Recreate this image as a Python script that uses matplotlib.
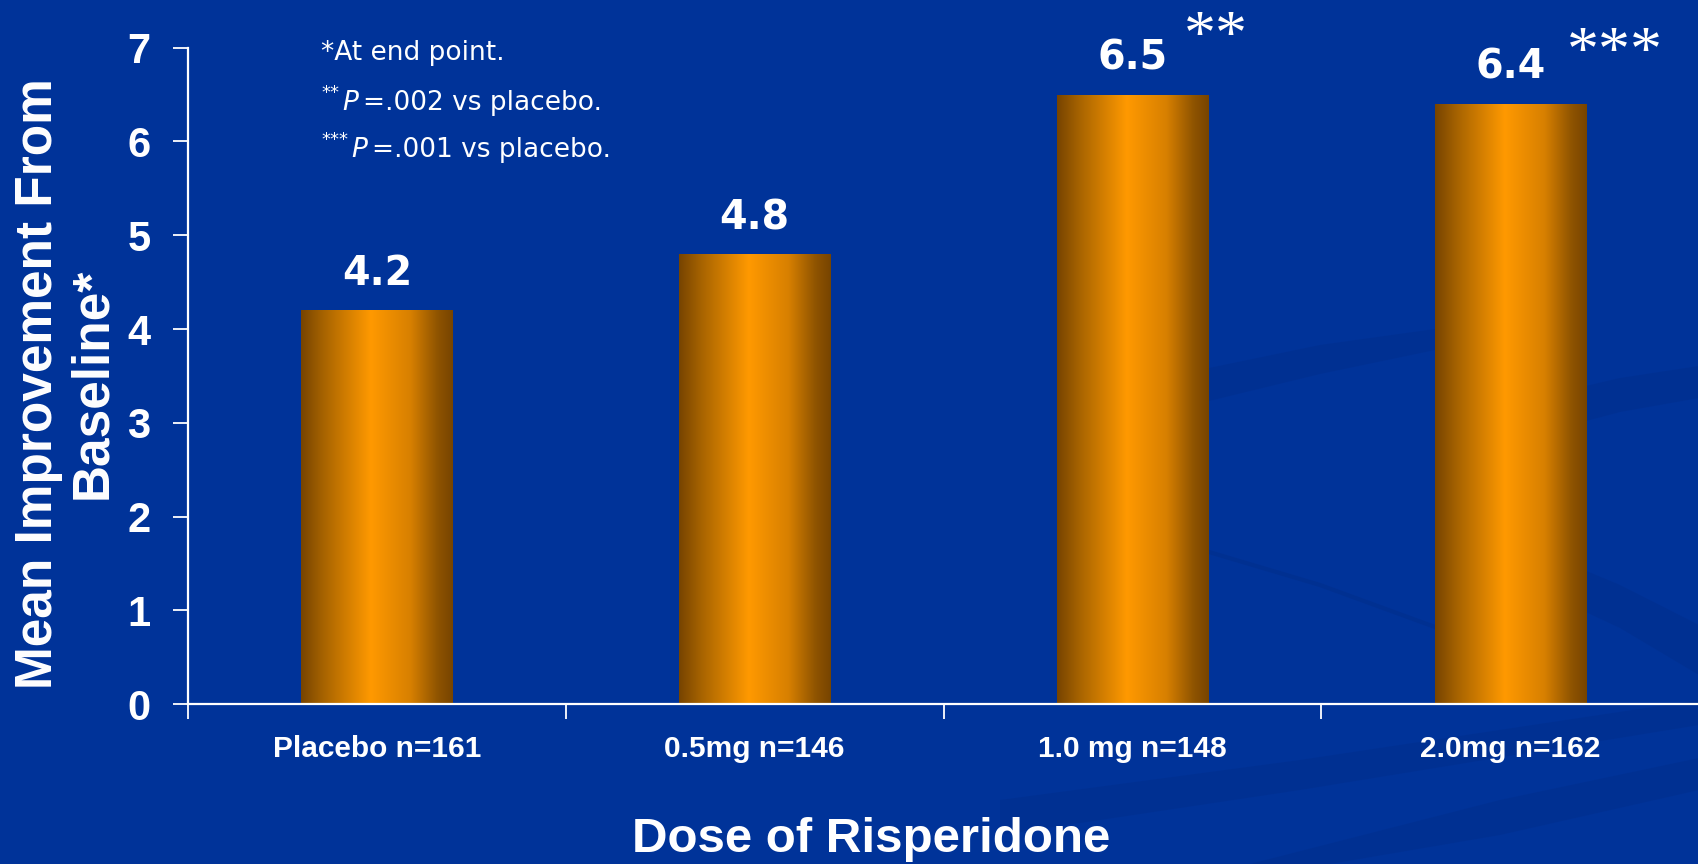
import numpy as np
import matplotlib
matplotlib.use("Agg")
import matplotlib.pyplot as plt
from matplotlib.colors import LinearSegmentedColormap
from matplotlib.patches import Polygon

# ---- data ----
categories = ["Placebo n=161", "0.5mg n=146", "1.0 mg n=148", "2.0mg n=162"]
values = [4.2, 4.8, 6.5, 6.4]
value_labels = ["4.2", "4.8", "6.5", "6.4"]
significance = ["", "", "**", "***"]
yticks = [0, 1, 2, 3, 4, 5, 6, 7]
note_lines = [
    [("*At end point.", "rm")],
    [("**", "sup"), ("P", "it"), ("=.002 vs placebo.", "rm")],
    [("***", "sup"), ("P", "it"), ("=.001 vs placebo.", "rm")],
]
ylabel = "Mean Improvement From\nBaseline*"
xlabel = "Dose of Risperidone"

BG = "#003399"
W, H = 1699, 864

fig = plt.figure(figsize=(W / 100, H / 100), dpi=100, facecolor=BG)

# subtle background swooshes of the slide template (pixel coordinates)
bgax = fig.add_axes([0, 0, 1, 1], zorder=-5)
bgax.set_xlim(0, W)
bgax.set_ylim(H, 0)
bgax.axis("off")
swoosh_color = "#002f8e"
bands = [
    ([(1120, 400), (1209, 368), (1320, 345), (1435, 329), (1520, 320)],
     [(1520, 336), (1435, 350), (1320, 374), (1209, 401), (1120, 430)]),
    ([(1560, 392), (1620, 378), (1699, 366)],
     [(1699, 398), (1620, 412), (1560, 428)]),
    ([(1560, 560), (1620, 585), (1699, 625)],
     [(1699, 675), (1620, 628), (1560, 600)]),
    ([(1000, 800), (1300, 760), (1699, 700)],
     [(1699, 725), (1300, 790), (1000, 835)]),
    ([(1250, 864), (1500, 800), (1699, 758)],
     [(1699, 790), (1500, 835), (1330, 864)]),
]
for top, bot in bands:
    bgax.add_patch(Polygon(top + bot, closed=True, facecolor=swoosh_color,
                           edgecolor="none", alpha=0.6))
bgax.plot([1209, 1320, 1435], [552, 585, 627], color=swoosh_color, lw=3, alpha=0.7)

ax = fig.add_axes([0.1107, 0.185, 0.8893, 0.7598])
ax.set_facecolor("none")

x = np.arange(len(categories))
bars = ax.bar(x, values, width=0.4, color="none", edgecolor="none", zorder=2)

cmap = LinearSegmentedColormap.from_list(
    "barg", [(0.0, "#774400"), (0.15, "#a86400"), (0.46, "#ff9900"),
             (0.72, "#d88000"), (0.9, "#8f5400"), (1.0, "#774400")])
grad = np.linspace(0, 1, 256).reshape(1, -1)
for b in bars:
    x0, w, h = b.get_x(), b.get_width(), b.get_height()
    im = ax.imshow(grad, cmap=cmap, aspect="auto", extent=(x0, x0 + w, 0, h),
                   zorder=2, interpolation="bilinear")
    im.set_clip_path(b)

ax.set_xlim(-0.5, len(categories) - 0.5)
ax.set_ylim(0, 7)

for i, (v, lab) in enumerate(zip(values, value_labels)):
    ax.annotate(lab, (i, v), xytext=(0, 18), textcoords="offset points",
                ha="center", va="baseline", color="white", fontsize=28.5,
                fontweight="bold", family="DejaVu Sans")

sig_offsets = {2: (37, 40), 3: (41, 35)}
for i, s in enumerate(significance):
    if s:
        dx, dy = sig_offsets[i]
        ax.annotate(s, (i, values[i]), xytext=(dx, dy), textcoords="offset points",
                    ha="left", va="center", color="white", fontsize=46,
                    family="Liberation Serif")

for sp in ["top", "right"]:
    ax.spines[sp].set_visible(False)
for sp in ["left", "bottom"]:
    ax.spines[sp].set_color("white")
    ax.spines[sp].set_linewidth(1.6)

ax.set_yticks(yticks)
ax.set_yticklabels([str(t) for t in yticks], fontsize=30, fontweight="bold",
                   color="white", family="Liberation Sans")
ax.tick_params(axis="y", colors="white", length=11, width=1.3, pad=16)

ax.set_xticks(x)
ax.set_xticklabels(categories, fontsize=21.5, fontweight="bold", color="white",
                   family="Liberation Sans")
ax.tick_params(axis="x", which="major", length=0, pad=22)
ax.set_xticks(np.arange(-0.5, len(categories)), minor=True)
ax.tick_params(axis="x", which="minor", length=11, width=1.3, colors="white", direction="out")

fig.text(0.0386, 0.556, ylabel, rotation=90, ha="center", va="center",
         multialignment="center", fontsize=37, fontweight="bold", color="white",
         family="Liberation Sans", linespacing=1.13)
fig.text(0.513, 0.028, xlabel, ha="center", va="center", fontsize=35.5,
         fontweight="bold", color="white", family="Liberation Sans")

# footnotes, pieces chained left to right
renderer = fig.canvas.get_renderer()
piece_style = {
    "rm": dict(fontsize=19, family="DejaVu Sans"),
    "it": dict(fontsize=19, family="DejaVu Sans", style="italic"),
    "sup": dict(fontsize=13, family="DejaVu Sans"),
}
piece_gap = {"rm": 0, "it": 5, "sup": 3}
note_baselines = [60, 110, 157]  # pixel rows from top
for pieces, base in zip(note_lines, note_baselines):
    xpix = 321
    for txt, kind in pieces:
        yb = base + (-12 if kind == "sup" else 0)
        t = fig.text(xpix / W, 1 - yb / H, txt, ha="left", va="baseline",
                     color="white", **piece_style[kind])
        bb = t.get_window_extent(renderer)
        xpix += bb.width + piece_gap[kind]

fig.savefig("out.png", dpi=100, facecolor=BG)
